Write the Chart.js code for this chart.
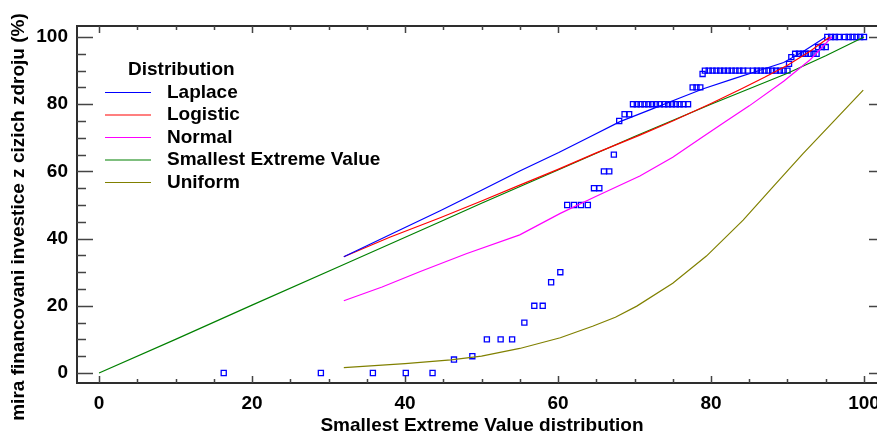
<!DOCTYPE html>
<html>
<head>
<meta charset="utf-8">
<title>Smallest Extreme Value distribution</title>
<script src="https://cdn.jsdelivr.net/npm/chart.js@4.4.0/dist/chart.umd.min.js"></script>
<style>
  html, body { margin: 0; padding: 0; background: #fff; }
  #wrap { width: 877px; height: 434px; position: relative; }
</style>
</head>
<body>
<div id="wrap"><canvas id="chart"></canvas></div>
<script>
/* P-P plot: mira financovani investice z cizich zdroju */

const FONT = '"Liberation Sans", Arial, sans-serif';

// osy
const xTitle = 'Smallest Extreme Value distribution';
const yTitle = 'mira financovani investice z cizich zdroju (%)';
const xTicks = [0, 20, 40, 60, 80, 100];
const yTicks = [0, 20, 40, 60, 80, 100];
const minorTicks = [0, 5, 10, 15, 20, 25, 30, 35, 40, 45, 50, 55, 60, 65, 70, 75, 80, 85, 90, 95, 100];
const legendTitle = 'Distribution';

// pozorovane body
const obsX = [16.3, 29.0, 35.8, 40.1, 43.6, 46.4, 48.8, 50.7, 52.5, 54.0, 55.6, 56.9, 58.0, 59.1, 60.3,
  61.2, 62.1, 63.0, 63.9, 64.7, 65.4, 66.0, 66.7, 67.3, 68.0, 68.7, 69.3,
  69.8, 70.3, 70.8, 71.3, 71.8, 72.3, 72.8, 73.3, 73.9, 74.4, 74.9, 75.4, 75.9, 76.4, 77.0,
  77.6, 78.1, 78.6, 78.9,
  79.2, 79.7, 80.2, 80.7, 81.2, 81.7, 82.2, 82.7, 83.2, 83.7, 84.2, 84.8, 85.5, 86.0, 86.5, 87.0, 87.5, 88.0, 88.5, 89.0, 89.5, 90.0,
  90.2, 90.5, 91.0, 91.5, 92.0, 92.4, 92.9, 93.4, 93.8, 94.0, 94.5, 95.0,
  95.2, 95.7, 96.2, 96.7, 97.5, 98.0, 98.5, 99.0, 99.5, 100.0];
const obsY = [0, 0, 0, 0, 0, 4, 5, 10, 10, 10, 15, 20, 20, 27, 30,
  50, 50, 50, 50, 55, 55, 60, 60, 65, 75, 77, 77,
  80, 80, 80, 80, 80, 80, 80, 80, 80, 80, 80, 80, 80, 80, 80,
  85, 85, 85, 89,
  90, 90, 90, 90, 90, 90, 90, 90, 90, 90, 90, 90, 90, 90, 90, 90, 90, 90, 90, 90, 90, 90,
  92, 94, 95, 95, 95, 95, 95, 95, 95, 97, 97, 97,
  100, 100, 100, 100, 100, 100, 100, 100, 100, 100];

// prizpusobene rozdeleni [x, y]
const laplacePts = [[32, 34.6], [40, 43.3], [44.6, 48.3], [50, 54.4], [55, 60.1], [60.1, 65.6], [64, 70.1],
  [68.1, 74.8], [72, 78.3], [76, 81.9], [79, 84.6], [83, 87.6], [86, 89.8], [89.5, 92.4], [92, 95.6], [95, 100]];
const logisticPts = [[32, 34.6], [38, 40.4], [44.6, 46.2], [50, 51.2], [55, 55.9], [60, 60.6], [65, 65.5],
  [70.7, 70.8], [75, 75.0], [80, 80.2], [84, 84.6], [87, 88.0], [90, 91.6], [93, 95.8], [95.5, 100]];
const normalPts = [[32, 21.5], [37, 25.6], [42, 30.2], [48, 35.5], [55, 41.1], [60.3, 47.5], [65, 52.6],
  [70.7, 58.6], [75, 64.2], [78.6, 69.8], [82, 75.0], [85, 79.5], [89.5, 86.8], [93, 93.3], [95.8, 100]];
const sevPts = [[0, 0], [10, 10], [20, 20.2], [32, 32.3], [44.6, 45.0], [50, 50.5], [60, 60.4], [70, 70.4],
  [80, 80.0], [85, 84.6], [90, 89.2], [95, 94.4], [100, 100]];
const uniformPts = [[32, 1.6], [40, 2.8], [46, 3.9], [50, 5.0], [55, 7.3], [60.3, 10.5], [64.6, 14.0],
  [67.5, 16.6], [70.3, 19.9], [75, 26.7], [79.4, 34.8], [84.2, 45.5], [88.1, 55.4], [92, 65.2], [96, 74.8], [99.9, 84.2]];

const toXY = pts => pts.map(p => ({ x: p[0], y: p[1] }));

function lineSet(label, pts, color) {
  return {
    label, data: toXY(pts), showLine: true, borderColor: color, backgroundColor: color,
    borderWidth: 1.2, pointRadius: 0, pointHoverRadius: 0, tension: 0, isFit: true,
  };
}

const datasets = [
  lineSet('Laplace', laplacePts, '#0000ff'),
  lineSet('Logistic', logisticPts, '#ff0000'),
  lineSet('Normal', normalPts, '#ff00ff'),
  lineSet('Smallest Extreme Value', sevPts, '#008000'),
  lineSet('Uniform', uniformPts, '#808000'),
  {
    label: 'data', data: obsX.map((x, i) => ({ x, y: obsY[i] })), showLine: false,
    pointStyle: 'rect', pointRadius: 3.6, borderWidth: 1.3,
    borderColor: '#0000ff', backgroundColor: 'rgba(255,255,255,0)',
  },
];

// ramecek, ticky, legenda, popisky os
const decor = {
  id: 'decor',
  afterDatasetsDraw(chart) {
    const { ctx, chartArea: a, scales: { x, y } } = chart;
    ctx.save();

    ctx.strokeStyle = '#2e2e2e';
    ctx.lineWidth = 2;
    ctx.beginPath();
    ctx.moveTo(a.right, a.top); ctx.lineTo(a.left, a.top);
    ctx.lineTo(a.left, a.bottom); ctx.lineTo(a.right, a.bottom);
    ctx.stroke();

    ctx.strokeStyle = '#444';
    ctx.lineWidth = 1.5;
    ctx.beginPath();
    minorTicks.forEach(v => {
      const major = xTicks.includes(v);
      const px = Math.round(x.getPixelForValue(v)) + 0.5;
      const tl = major ? 7 : 4;
      ctx.moveTo(px, a.bottom); ctx.lineTo(px, a.bottom - tl);
      ctx.moveTo(px, a.top); ctx.lineTo(px, a.top + tl);
      const py = Math.round(y.getPixelForValue(v)) + 0.5;
      const yl = yTicks.includes(v) ? 16 : 9;
      ctx.moveTo(a.left, py); ctx.lineTo(a.left + yl, py);
      if (yTicks.includes(v)) { ctx.moveTo(a.right, py); ctx.lineTo(a.right - 8, py); }
    });
    ctx.stroke();

    // legenda
    ctx.font = 'bold 19px ' + FONT;
    ctx.fillStyle = '#000';
    ctx.textAlign = 'left';
    ctx.textBaseline = 'middle';
    ctx.fillText(legendTitle, 128, 70);
    chart.data.datasets.filter(d => d.isFit).forEach((d, i) => {
      const yy = 92.5 + i * 22.5;
      ctx.strokeStyle = d.borderColor;
      ctx.lineWidth = 1.2;
      ctx.beginPath(); ctx.moveTo(105, yy); ctx.lineTo(151, yy); ctx.stroke();
      ctx.fillText(d.label, 167, yy);
    });

    // popisky os
    ctx.textAlign = 'center';
    ctx.fillText(xTitle, 482, 426);
    ctx.translate(19, 217);
    ctx.rotate(-Math.PI / 2);
    ctx.fillText(yTitle, 0, 0);
    ctx.restore();
  },
};

const tickFont = { family: FONT, size: 19, weight: 'bold' };

new Chart(document.getElementById('chart'), {
  type: 'scatter',
  data: { datasets },
  options: {
    responsive: true,
    maintainAspectRatio: false,
    animation: false,
    layout: { autoPadding: false, padding: { top: 26, right: 0, bottom: 0, left: 0 } },
    plugins: { legend: { display: false }, tooltip: { enabled: false } },
    scales: {
      x: {
        type: 'linear', min: -2.88, max: 101.7,
        afterBuildTicks: s => { s.ticks = xTicks.map(v => ({ value: v })); },
        afterFit: s => { s.height = 51; s.paddingLeft = 0; s.paddingRight = 0; },
        grid: { display: false, drawTicks: false },
        border: { display: false },
        ticks: { font: tickFont, color: '#000', padding: 9, maxRotation: 0 },
      },
      y: {
        type: 'linear', min: -2.98, max: 103.27,
        afterBuildTicks: s => { s.ticks = yTicks.map(v => ({ value: v })); },
        afterFit: s => { s.width = 77; },
        grid: { display: false, drawTicks: false },
        border: { display: false },
        ticks: { font: tickFont, color: '#000', padding: 9 },
      },
    },
  },
  plugins: [decor],
});
</script>
</body>
</html>
